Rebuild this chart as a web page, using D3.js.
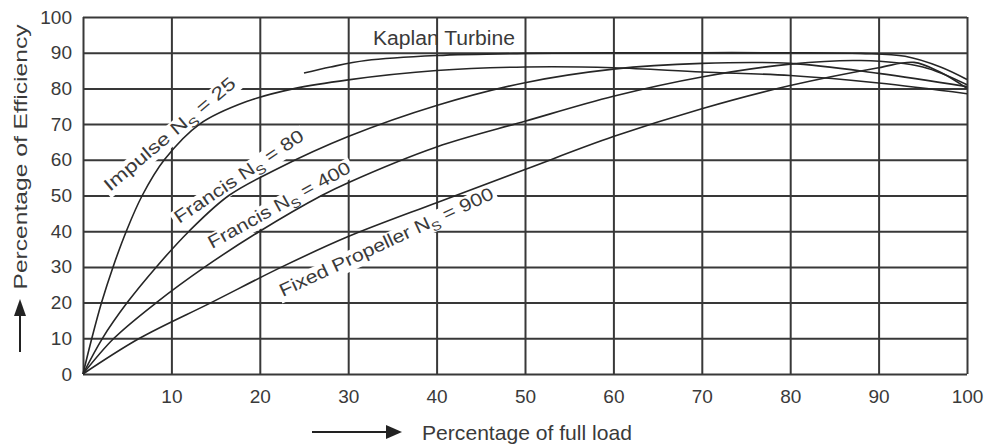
<!DOCTYPE html>
<html>
<head>
<meta charset="utf-8">
<script src="https://cdn.jsdelivr.net/npm/d3@7"></script>
<style>
  body { margin: 0; background: #fff; }
  text { font-family: "Liberation Sans", Arial, sans-serif; fill: #3a3a3a; }
</style>
</head>
<body>
<div id="chart"></div>
<script>
// ticks
var loadTicks = [0, 10, 20, 30, 40, 50, 60, 70, 80, 90, 100];
var effTicks = [0, 10, 20, 30, 40, 50, 60, 70, 80, 90, 100];

// curves: [percentage of full load, percentage of efficiency]
var impulse = [[0,0],[1,10],[2.1,20],[3.4,30],[4.9,40],[6.7,50],[9.2,60],[13.2,70],[18.5,76.3],[24,80],[30,82.4],[40,85],[50,86],[60,85.8],[70,84.6],[80,83.6],[90,81.5],[100,78.5]];
var francis80 = [[0,0],[2.2,10],[5,20],[8.3,30],[12,40],[16.5,50],[22,57.5],[30,66.5],[40,75.2],[50,81.6],[60,85.4],[70,87],[80,87],[90,84.2],[100,80.5]];
var francis400 = [[0,0],[3.5,10],[8.3,20],[13.8,30],[20,40],[27,50],[30,53.6],[40,63.6],[50,70.8],[60,77.8],[70,83.2],[80,86.8],[88,87.8],[95,86],[100,81]];
var propeller = [[0,0],[6.4,10],[14.5,20],[22.5,30],[30,38.5],[40,48],[50,57.3],[60,66.5],[70,74.3],[80,80.8],[90,85.8],[94,87.3],[97,84.5],[100,80]];
var kaplan = [[25,84.3],[28,86],[32,87.8],[40,89.2],[50,89.8],[60,90],[70,90],[80,90],[88,89.8],[93,89],[97,86],[100,82.5]];

var curveNames = ["Impulse", "Francis", "Francis", "Fixed Propeller"];
var curveSpeeds = ["25", "80", "400", "900"];

var width = 985, height = 448;
var svg = d3.select("#chart").append("svg")
    .attr("width", width)
    .attr("height", height);

var x = d3.scaleLinear().domain([0, 100]).range([83, 967]);
var y = d3.scaleLinear().domain([0, 100]).range([374, 17]);

// grid + tick labels
var gx = svg.append("g")
    .attr("transform", "translate(0," + y(0) + ")")
    .call(d3.axisBottom(x).tickValues(loadTicks).tickSize(-(y(0) - y(100))).tickPadding(16)
        .tickFormat(function(d) { return d === 0 ? "" : d; }));
var gy = svg.append("g")
    .attr("transform", "translate(" + x(0) + ",0)")
    .call(d3.axisLeft(y).tickValues(effTicks).tickSize(-(x(100) - x(0))).tickPadding(11));

[gx, gy].forEach(function(g) {
  g.select(".domain").remove();
  g.selectAll(".tick line").attr("stroke", "#383838").attr("stroke-width", 2);
  g.selectAll(".tick text").style("font-size", "19px").attr("fill", "#4a4a4a");
});

// label positions in data units and rotation
var labelLayout = [
  { at: [3.05, 51], angle: -40, len: 166 },
  { at: [10.9, 42], angle: -34, len: 152 },
  { at: [14.6, 35], angle: -29, len: 160 },
  { at: [22.6, 21.6], angle: -25, len: 234 }
];
var fs = 18;

var labelG = svg.append("g");
labelLayout.forEach(function(p) {
  var g = labelG.append("g")
      .attr("transform", "translate(" + x(p.at[0]) + "," + y(p.at[1]) + ") rotate(" + p.angle + ")");
  g.append("rect")
      .attr("x", -3).attr("y", -fs * 0.8)
      .attr("width", p.len + 6).attr("height", fs * 1.12)
      .attr("fill", "#fff");
  p.g = g;
});

// curves
var line = d3.line()
    .x(function(d) { return x(d[0]); })
    .y(function(d) { return y(d[1]); })
    .curve(d3.curveCatmullRom.alpha(0.5));

[impulse, francis80, francis400, propeller, kaplan].forEach(function(s) {
  svg.append("path")
      .attr("d", line(s))
      .attr("fill", "none")
      .attr("stroke", "#262626")
      .attr("stroke-width", 1.6);
});

// curve labels
labelLayout.forEach(function(p, i) {
  var t = p.g.append("text")
      .attr("x", 0).attr("y", 0)
      .style("font-size", fs + "px")
      .attr("textLength", p.len)
      .attr("lengthAdjust", "spacingAndGlyphs");
  t.append("tspan").text(curveNames[i] + " N");
  t.append("tspan").attr("dy", 5).style("font-size", (fs * 0.7) + "px").text("S");
  t.append("tspan").attr("dy", -5).text(" = " + curveSpeeds[i]);
});

svg.append("text")
    .attr("x", x(32.8)).attr("y", y(92.2))
    .style("font-size", "20px")
    .attr("textLength", 142)
    .attr("lengthAdjust", "spacingAndGlyphs")
    .text("Kaplan Turbine");

// axis titles with arrows
svg.append("text")
    .attr("transform", "translate(27,157) rotate(-90)")
    .attr("text-anchor", "middle")
    .style("font-size", "18px")
    .attr("textLength", 265)
    .attr("lengthAdjust", "spacingAndGlyphs")
    .text("Percentage of Efficiency");

svg.append("line")
    .attr("x1", 20).attr("x2", 20).attr("y1", 352).attr("y2", 314)
    .attr("stroke", "#222").attr("stroke-width", 2);
svg.append("path")
    .attr("d", "M20,299 L14,316 L26,316 Z")
    .attr("fill", "#222");

svg.append("text")
    .attr("x", 422).attr("y", 440)
    .style("font-size", "21px")
    .attr("textLength", 210)
    .attr("lengthAdjust", "spacingAndGlyphs")
    .text("Percentage of full load");

svg.append("line")
    .attr("x1", 312).attr("x2", 390).attr("y1", 432).attr("y2", 432)
    .attr("stroke", "#222").attr("stroke-width", 2);
svg.append("path")
    .attr("d", "M402,432 L386,425 L386,439 Z")
    .attr("fill", "#222");
</script>
</body>
</html>
